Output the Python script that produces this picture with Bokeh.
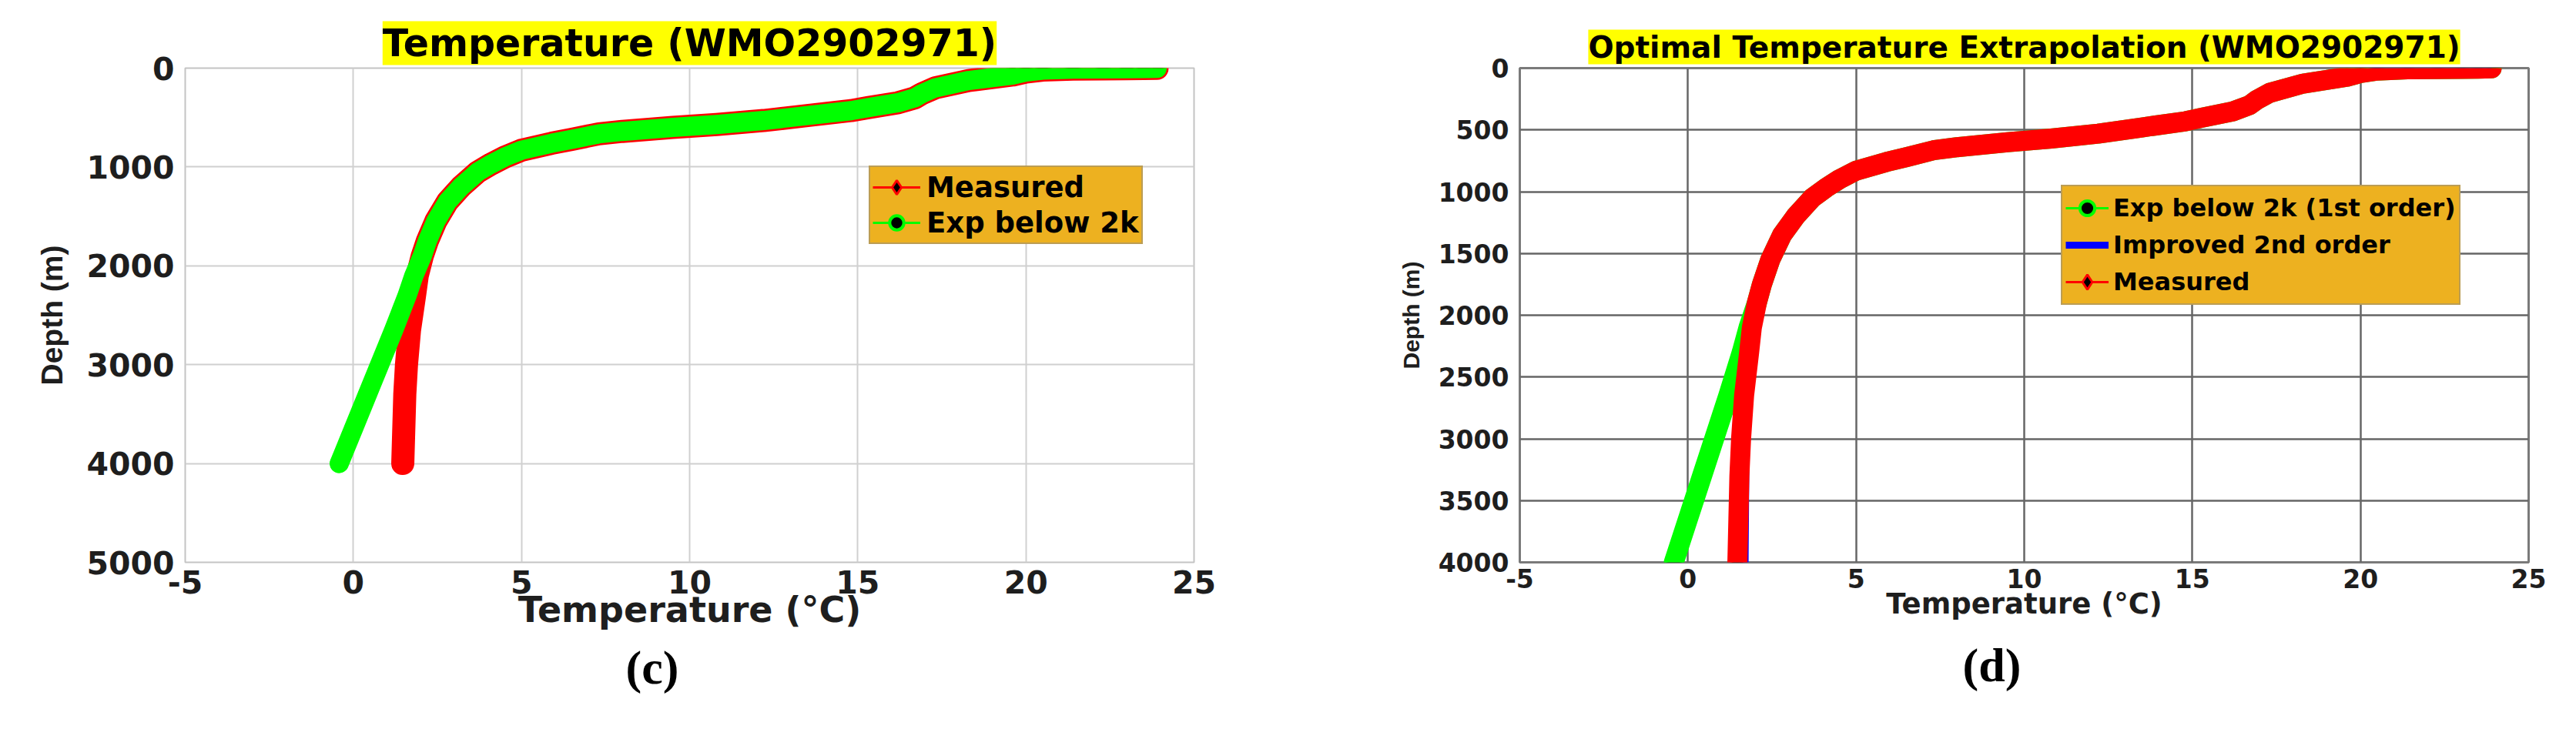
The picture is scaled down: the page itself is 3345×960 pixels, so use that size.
from bokeh.plotting import figure
from bokeh.layouts import row
from bokeh.models import Range1d, FixedTicker, Legend, LegendItem, Title
from bokeh.embed import file_html
from bokeh.resources import INLINE

# ---------------- data ----------------
depth_measured = [2, 4, 6, 8, 10, 20, 40, 70, 125, 200, 260, 300, 350, 400, 430, 480,
                  530, 570, 600, 640, 665, 720, 760, 830, 900, 970, 1050, 1200, 1350,
                  1550, 1750, 1900, 2100, 2300, 2650, 3000, 3300, 3650, 4000]
temp_measured = [23.9, 23.5, 23.0, 22.3, 21.4, 20.5, 20.0, 19.6, 18.3, 17.3, 16.9, 16.7,
                 16.2, 15.3, 14.8, 13.5, 12.2, 10.8, 9.5, 8.0, 7.3, 6.5, 5.9, 5.0, 4.5,
                 4.1, 3.7, 3.2, 2.8, 2.45, 2.2, 2.05, 1.9, 1.82, 1.67, 1.58, 1.53, 1.5, 1.47]

depth_exp = [2, 4, 6, 8, 10, 20, 40, 70, 125, 200, 260, 300, 350, 400, 430, 480,
             530, 570, 600, 640, 665, 720, 760, 830, 900, 970, 1050, 1200, 1350,
             1550, 1750, 1900, 2100, 2300, 2650, 3000, 3300, 3650, 4000]
temp_exp = [23.9, 23.5, 23.0, 22.3, 21.4, 20.5, 20.0, 19.6, 18.3, 17.3, 16.9, 16.7,
            16.2, 15.3, 14.8, 13.5, 12.2, 10.8, 9.5, 8.0, 7.3, 6.5, 5.9, 5.0, 4.5,
            4.1, 3.7, 3.2, 2.8, 2.45, 2.2, 2.05, 1.8, 1.6, 1.2, 0.78, 0.42, 0.0, -0.42]

depth_improved = [2, 4, 6, 8, 10, 20, 40, 70, 125, 200, 260, 300, 350, 400, 430, 480,
                  530, 570, 600, 640, 665, 720, 760, 830, 900, 970, 1050, 1200, 1350,
                  1550, 1750, 1900, 2100, 2300, 2650, 3000, 3300, 3650, 4000]
temp_improved = [23.9, 23.5, 23.0, 22.3, 21.4, 20.5, 20.0, 19.6, 18.3, 17.3, 16.9, 16.7,
                 16.2, 15.3, 14.8, 13.5, 12.2, 10.8, 9.5, 8.0, 7.3, 6.5, 5.9, 5.0, 4.5,
                 4.1, 3.7, 3.2, 2.8, 2.45, 2.2, 2.05, 1.92, 1.85, 1.78, 1.74, 1.72, 1.71, 1.7]

x_ticks = [-5, 0, 5, 10, 15, 20, 25]
x_tick_labels = ["-5", "0", "5", "10", "15", "20", "25"]
y_ticks_c = [0, 1000, 2000, 3000, 4000, 5000]
y_tick_labels_c = ["0", "1000", "2000", "3000", "4000", "5000"]
y_ticks_d = [0, 500, 1000, 1500, 2000, 2500, 3000, 3500, 4000]
y_tick_labels_d = ["0", "500", "1000", "1500", "2000", "2500", "3000", "3500", "4000"]

title_c = "Temperature (WMO2902971)"
title_d = "Optimal Temperature Extrapolation (WMO2902971)"
x_label = "Temperature (°C)"
y_label = "Depth (m)"

RED = "#ff0000"
GREEN = "#00ff00"
BLUE = "#0000ff"
LEG_BG = "#EDB120"
TXT = "#1e1e1e"

H = 940
FW, FH = 1310, 642
W1 = 1700
W2 = 1625
TOP = 88


def style_axes(p, yticks, ylabels, tick_px, xlab_px, ylab_px, grid_col, grid_w, out_col, out_w,
               xlab_font, ylab_font, xstand, ystand, xlabstand, ylabstand):
    p.xaxis.ticker = FixedTicker(ticks=x_ticks)
    p.yaxis.ticker = FixedTicker(ticks=yticks)
    p.xaxis.major_label_overrides = {t: s for t, s in zip(x_ticks, x_tick_labels)}
    p.yaxis.major_label_overrides = {t: s for t, s in zip(yticks, ylabels)}
    for ax in (p.xaxis[0], p.yaxis[0]):
        ax.axis_line_color = None
        ax.major_tick_line_color = None
        ax.minor_tick_line_color = None
        ax.major_tick_in = 0
        ax.major_tick_out = 0
        ax.major_label_text_font = "DejaVu Sans"
        ax.major_label_text_font_style = "bold"
        ax.major_label_text_font_size = tick_px
        ax.major_label_text_color = TXT
        ax.axis_label_text_font_style = "bold"
        ax.axis_label_text_color = TXT
    p.xaxis.major_label_standoff = xstand
    p.yaxis.major_label_standoff = ystand
    p.xaxis.axis_label = x_label
    p.yaxis.axis_label = y_label
    p.xaxis.axis_label_text_font = xlab_font
    p.yaxis.axis_label_text_font = ylab_font
    p.xaxis.axis_label_text_font_size = xlab_px
    p.yaxis.axis_label_text_font_size = ylab_px
    p.xaxis.axis_label_standoff = xlabstand
    p.yaxis.axis_label_standoff = ylabstand
    p.xgrid.grid_line_color = grid_col
    p.ygrid.grid_line_color = grid_col
    p.xgrid.grid_line_width = grid_w
    p.ygrid.grid_line_width = grid_w
    p.outline_line_color = out_col
    p.outline_line_width = out_w
    p.background_fill_color = "white"
    p.border_fill_color = "white"


# ---------------- panel (c) ----------------
p1 = figure(width=W1, height=H, output_backend="svg", toolbar_location=None,
            x_range=Range1d(-5, 25), y_range=Range1d(5000, 0),
            min_border_left=240, min_border_right=W1 - 240 - FW,
            min_border_top=TOP, min_border_bottom=H - TOP - FH)
style_axes(p1, y_ticks_c, y_tick_labels_c, "41px", "46px", "39px", "#d0d0d0", 2, "#c4c4c4", 2,
           "DejaVu Sans", "Liberation Sans", 10, 14, -9, 20)
p1.add_layout(Title(text=title_c, align="center", text_font="DejaVu Sans", text_font_size="49px",
                    text_font_style="bold", text_color="black", background_fill_color="#ffff00",
                    standoff=8), "above")
p1.add_layout(Title(text="(c)", align="left", offset=572, text_font="Liberation Serif",
                    text_font_size="62px", text_font_style="bold", text_color="black",
                    standoff=18), "below")

m_line1 = p1.line(temp_measured, depth_measured, color=RED, line_width=3)
m_mark1 = p1.scatter(temp_measured, depth_measured, marker="diamond", size=22,
                     fill_color="black", line_color=RED, line_width=3)
e_line1 = p1.line(temp_exp, depth_exp, color=GREEN, line_width=3)
e_mark1 = p1.scatter(temp_exp, depth_exp, marker="circle", size=20,
                     fill_color="black", line_color=GREEN, line_width=4)
p1.line(temp_measured, depth_measured, color=RED, line_width=30, line_join="round", line_cap="round")
p1.line(temp_exp, depth_exp, color=GREEN, line_width=25, line_join="round", line_cap="round")

leg1 = Legend(items=[LegendItem(label="Measured", renderers=[m_line1, m_mark1]),
                     LegendItem(label="Exp below 2k", renderers=[e_line1, e_mark1])],
              location=(888, 413), background_fill_color=LEG_BG, background_fill_alpha=1,
              border_line_color="#8a8a8a", border_line_width=2,
              label_text_font="DejaVu Sans", label_text_font_size="37px",
              label_text_font_style="bold", label_text_color="black",
              glyph_width=62, glyph_height=46, label_height=40, spacing=-6, padding=3,
              margin=0, label_standoff=8)
p1.add_layout(leg1)

# ---------------- panel (d) ----------------
LB2 = 1981 - 8 - W1
p2 = figure(width=W2, height=H, output_backend="svg", toolbar_location=None,
            x_range=Range1d(-5, 25), y_range=Range1d(4000, 0),
            min_border_left=LB2, min_border_right=W2 - LB2 - FW,
            min_border_top=TOP, min_border_bottom=H - TOP - FH)
style_axes(p2, y_ticks_d, y_tick_labels_d, "33px", "37px", "30px", "#666666", 2.5, "#7a7a7a", 3,
           "DejaVu Sans", "Liberation Sans", 8, 14, -4, 16)
p2.add_layout(Title(text=title_d, align="center", text_font="DejaVu Sans", text_font_size="39px",
                    text_font_style="bold", text_color="black", background_fill_color="#ffff00",
                    standoff=10), "above")
p2.add_layout(Title(text="(d)", align="left", offset=575, text_font="Liberation Serif",
                    text_font_size="62px", text_font_style="bold", text_color="black",
                    standoff=38), "below")

e_line2 = p2.line(temp_exp, depth_exp, color=GREEN, line_width=3)
e_mark2 = p2.scatter(temp_exp, depth_exp, marker="circle", size=20,
                     fill_color="black", line_color=GREEN, line_width=4)
m_line2 = p2.line(temp_measured, depth_measured, color=RED, line_width=3)
m_mark2 = p2.scatter(temp_measured, depth_measured, marker="diamond", size=22,
                     fill_color="black", line_color=RED, line_width=3)
p2.line(temp_exp, depth_exp, color=GREEN, line_width=26, line_join="round", line_cap="round")
i_line2 = p2.line(temp_improved, depth_improved, color=BLUE, line_width=9)
p2.line(temp_measured, depth_measured, color=RED, line_width=26, line_join="round", line_cap="round")

leg2 = Legend(items=[LegendItem(label="Exp below 2k (1st order)", renderers=[e_line2, e_mark2]),
                     LegendItem(label="Improved 2nd order", renderers=[i_line2]),
                     LegendItem(label="Measured", renderers=[m_line2, m_mark2])],
              location=(703, 334), background_fill_color=LEG_BG, background_fill_alpha=1,
              border_line_color="#8a8a8a", border_line_width=2,
              label_text_font="DejaVu Sans", label_text_font_size="32px",
              label_text_font_style="bold", label_text_color="black",
              glyph_width=56, glyph_height=48, label_height=40, spacing=-4, padding=4,
              margin=0, label_standoff=6)
p2.add_layout(leg2)

layout = row(p1, p2)
open("out.html", "w").write(file_html(layout, INLINE))
